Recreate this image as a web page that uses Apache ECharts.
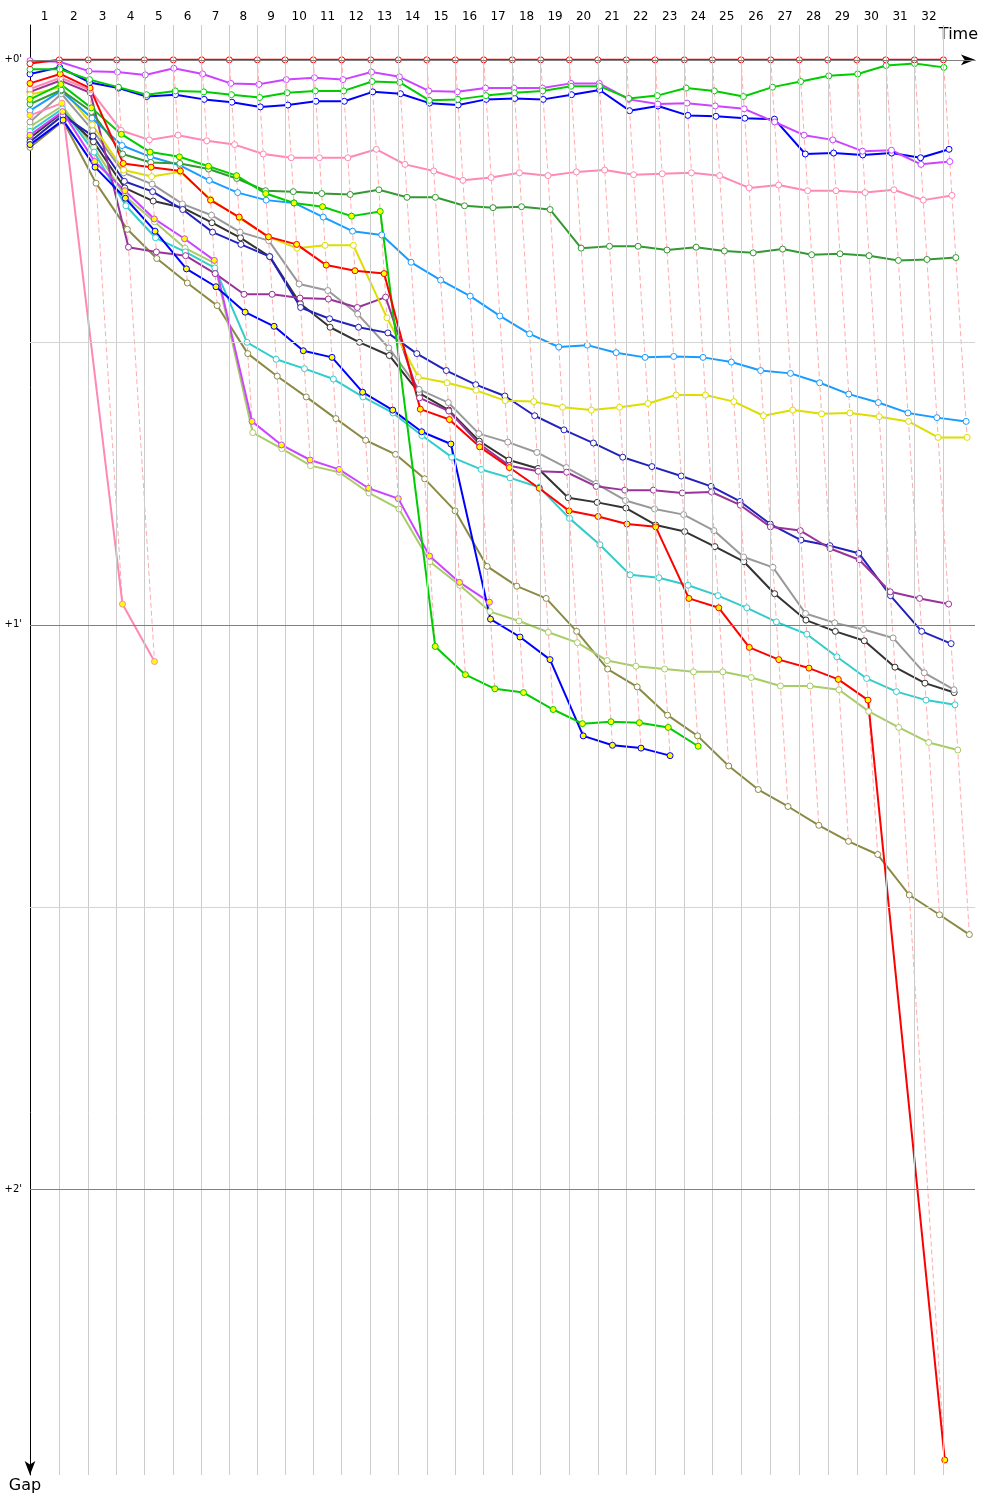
<!DOCTYPE html>
<html><head><meta charset="utf-8">
<script src="https://cdn.jsdelivr.net/npm/echarts@6/dist/echarts.min.js"></script>
<style>html,body{margin:0;padding:0;background:#fff}#c{width:1000px;height:1500px}</style>
</head><body><div id="c"></div>
<script>
// Leader's cumulative time (s) at the end of each lap 1..32
const leaderLapTimes = [49.5, 98.5, 146.5, 193.2, 242.2, 290.2, 336.8, 384.2, 431.0, 478.8, 526.8, 575.8, 622.5, 670.5, 718.8, 766.8, 815.1, 863.1, 911.5, 959.5, 1007.8, 1056.3, 1105.8, 1153.2, 1201.7, 1251.8, 1300.2, 1348.2, 1397.2, 1446.2, 1494.6, 1543.6];
const lapLabels = ['1','2','3','4','5','6','7','8','9','10','11','12','13','14','15','16','17','18','19','20','21','22','23','24','25','26','27','28','29','30','31','32'];
const gapTicks = [0, 60, 120];

// Gap to leader (s) per driver, index 0 = start, index n = end of lap n
const gapRedA    = [0.4,0,0,0,0,0,0,0,0,0,0,0,0,0,0,0,0,0,0,0,0,0,0,0,0,0,0,0,0,0,0,0,0];
const gapGreenB  = [1.0,1.0,2.1,2.9,3.7,3.3,3.4,3.7,4.0,3.5,3.3,3.3,2.3,2.4,4.3,4.2,3.8,3.5,3.3,2.8,2.8,4.1,3.8,3.0,3.3,3.9,2.9,2.3,1.7,1.5,0.6,0.4,0.8];
const gapVioletC = [0.1,0.2,1.2,1.3,1.6,0.9,1.5,2.5,2.6,2.1,1.9,2.1,1.3,1.8,3.3,3.4,3.0,3.0,3.0,2.5,2.5,4.2,4.7,4.6,4.9,5.2,6.6,8.0,8.5,9.7,9.6,11.1,10.8];
const gapBlueD   = [1.5,0.8,2.4,3.0,3.9,3.7,4.2,4.5,5.0,4.8,4.4,4.4,3.4,3.6,4.6,4.8,4.2,4.1,4.2,3.7,3.2,5.4,4.9,5.9,6.0,6.2,6.3,10.0,9.9,10.1,9.9,10.4,9.5];
const gapPinkE   = [3.1,1.9,3.2,7.5,8.5,8.0,8.6,9.0,10.0,10.4,10.4,10.4,9.5,11.1,11.8,12.8,12.5,12.0,12.3,11.9,11.7,12.2,12.1,12.0,12.3,13.6,13.3,13.9,13.9,14.1,13.8,14.9,14.4];
const gapDkGreenF= [4.7,3.2,5.5,10.0,10.9,11.0,11.6,12.6,13.9,14.0,14.2,14.3,13.8,14.6,14.6,15.5,15.7,15.6,15.9,20.0,19.8,19.8,20.2,19.9,20.3,20.5,20.1,20.7,20.6,20.8,21.3,21.2,21.0];
const gapSkyG    = [5.4,3.3,6.2,9.1,10.3,11.2,12.8,14.1,14.9,15.2,16.7,18.2,18.6,21.5,23.4,25.1,27.2,29.1,30.5,30.3,31.1,31.6,31.5,31.6,32.1,33.0,33.3,34.3,35.5,36.4,37.5,38.0,38.4];
const gapYellowH = [3.7,2.9,6.9,11.7,12.4,11.9,14.8,16.8,18.8,20.0,19.7,19.7,27.4,33.7,34.3,35.1,36.2,36.3,36.9,37.2,36.9,36.5,35.6,35.6,36.3,37.8,37.2,37.6,37.5,37.9,38.4,40.1,40.1];
const gapPurpleI = [3.4,2.2,3.5,19.9,20.4,20.8,22.7,24.9,24.9,25.3,25.4,26.3,25.2,35.9,37.3,40.8,43.1,43.7,43.8,45.3,45.7,45.7,46.0,45.9,47.3,49.6,50.0,51.9,53.1,56.5,57.2,57.8];
const gapIndigoJ = [8.7,5.9,8.1,12.9,14.0,15.9,18.3,19.6,20.9,26.3,27.5,28.4,29.0,31.2,33.0,34.5,35.7,37.8,39.3,40.7,42.2,43.2,44.2,45.3,46.9,49.3,51.0,51.6,52.4,56.9,60.7,62.0];
const gapGrayK   = [6.6,3.6,7.5,12.0,13.2,15.3,16.5,18.3,19.2,23.8,24.5,27.0,30.6,35.0,36.4,39.7,40.6,41.7,43.3,45.0,46.8,47.7,48.3,50.0,52.8,53.9,58.8,59.8,60.5,61.4,65.1,66.9];
const gapBlackL  = [8.3,5.6,8.7,13.6,15.0,15.7,17.3,18.9,20.9,25.9,28.4,30.0,31.4,35.4,37.2,40.5,42.5,43.4,46.5,47.0,47.6,49.4,50.1,51.7,53.3,56.7,59.5,60.7,61.7,64.5,66.2,67.2];
const gapCyanM   = [7.6,5.2,9.8,15.5,18.9,20.4,22.1,30.0,31.8,32.8,33.9,35.8,37.5,39.9,42.2,43.5,44.4,45.4,48.7,51.5,54.7,55.0,55.8,56.9,58.2,59.7,61.0,63.4,65.7,67.1,68.0,68.5];
const gapLimeN   = [7.1,4.9,9.3,14.5,17.2,20.0,21.6,39.6,41.3,43.1,43.8,46.0,47.7,53.3,55.8,58.6,59.6,60.8,61.9,63.8,64.4,64.7,65.0,65.0,65.6,66.5,66.5,66.9,69.2,70.9,72.5,73.3];
const gapOliveO  = [9.3,6.5,13.1,18.0,21.1,23.7,26.1,31.2,33.6,35.8,38.1,40.4,41.9,44.5,47.9,53.8,55.9,57.2,60.7,64.7,66.6,69.6,71.8,75.0,77.5,79.3,81.3,83.0,84.4,88.7,90.8,92.9];
const gapRedP    = [2.5,1.5,3.0,11.0,11.4,11.8,14.9,16.7,18.8,19.6,21.8,22.4,22.7,37.1,38.2,41.1,43.3,45.5,47.9,48.5,49.3,49.6,57.2,58.2,62.4,63.7,64.6,65.8,68.0,148.7];
const gapGreenQ  = [4.2,2.6,5.1,7.9,9.8,10.3,11.3,12.3,14.2,15.2,15.6,16.6,16.1,62.3,65.3,66.8,67.2,69.0,70.5,70.3,70.4,70.9,72.9];
const gapBlueR   = [9.0,6.4,11.4,14.7,18.2,22.2,24.1,26.8,28.3,30.9,31.6,35.3,37.2,39.5,40.8,59.4,61.3,63.7,71.8,72.8,73.1,73.9];
const gapVioletS = [8.0,5.5,10.8,13.9,16.9,19.0,21.3,38.4,40.9,42.5,43.5,45.5,46.6,52.7,55.5,57.6];
const gapPinkT   = [5.9,4.6,57.8,63.9];

// drawing order (last = on top) and styles
const drivers = [
  {g: gapOliveO,  c: '#8a8a45', f: '#ffffff'},
  {g: gapLimeN,   c: '#a8cc66', f: '#ffffff'},
  {g: gapCyanM,   c: '#33cccc', f: '#ffffff'},
  {g: gapBlackL,  c: '#333333', f: '#ffffff'},
  {g: gapGrayK,   c: '#999999', f: '#ffffff'},
  {g: gapIndigoJ, c: '#2222bb', f: '#ffffff'},
  {g: gapPurpleI, c: '#993399', f: '#ffffff'},
  {g: gapYellowH, c: '#dddd00', f: '#ffffff'},
  {g: gapSkyG,    c: '#1a9cff', f: '#ffffff'},
  {g: gapDkGreenF,c: '#339933', f: '#ffffff'},
  {g: gapPinkE,   c: '#ff88b4', f: '#ffffff'},
  {g: gapPinkT,   c: '#ff88b4', f: '#ffff00'},
  {g: gapVioletS, c: '#cc44ff', f: '#ffff00'},
  {g: gapBlueR,   c: '#0000ff', f: '#ffff00'},
  {g: gapGreenQ,  c: '#00cc00', f: '#ffff00'},
  {g: gapRedP,    c: '#ff0000', f: '#ffff00'},
  {g: gapBlueD,   c: '#0000ff', f: '#ffffff'},
  {g: gapVioletC, c: '#cc44ff', f: '#ffffff'},
  {g: gapGreenB,  c: '#00cc00', f: '#ffffff'},
  {g: gapRedA,    c: '#ff0000', f: '#ffffff'}
];

const T = leaderLapTimes;
const lapMids = T.map((t, i) => ((i === 0 ? 0 : T[i - 1]) + t) / 2);
function pts(g) { return g.map((v, i) => [i === 0 ? 0 : T[i - 1] + v, v]); }

const series = [];
// vertical lap grid lines
series.push({type: 'line', data: [[0, 0]], symbol: 'none', lineStyle: {opacity: 0}, silent: true, z: 1, animation: false,
  markLine: {silent: true, symbol: 'none', label: {show: false}, animation: false,
    lineStyle: {color: '#cccccc', width: 1, type: 'solid'},
    data: T.map(t => ({xAxis: t}))}});
// horizontal gap lines
series.push({type: 'line', data: [[0, 0]], symbol: 'none', lineStyle: {opacity: 0}, silent: true, z: 1, animation: false,
  markLine: {silent: true, symbol: 'none', label: {show: false}, animation: false,
    data: [
      {yAxis: 30, lineStyle: {color: '#d4d4d4', width: 1, type: 'solid'}},
      {yAxis: 90, lineStyle: {color: '#d4d4d4', width: 1, type: 'solid'}},
      {yAxis: 0, lineStyle: {color: '#808080', width: 1, type: 'solid'}},
      {yAxis: 60, lineStyle: {color: '#808080', width: 1, type: 'solid'}},
      {yAxis: 120, lineStyle: {color: '#808080', width: 1, type: 'solid'}}
    ]}});
// dashed lines joining each lap's crossings
for (let L = 1; L <= T.length; L++) {
  const p = [];
  drivers.forEach(d => { if (d.g.length > L) p.push([T[L - 1] + d.g[L], d.g[L]]); });
  p.sort((a, b) => a[1] - b[1]);
  series.push({type: 'line', data: p, symbol: 'none', silent: true, z: 2, animation: false,
    lineStyle: {color: '#ff9c9c', width: 1, type: [5, 3], opacity: 0.85}});
}
// drivers
drivers.forEach(d => {
  series.push({type: 'line', data: pts(d.g), symbol: 'circle', symbolSize: 6, showSymbol: true, showAllSymbol: true,
    z: 3, animation: false, emphasis: {disabled: true},
    lineStyle: {color: d.c, width: 2},
    itemStyle: {color: d.f, borderColor: d.c, borderWidth: 1}});
});

const chart = echarts.init(document.getElementById('c'), null, {renderer: 'canvas'});
chart.setOption({
  animation: false,
  backgroundColor: '#ffffff',
  textStyle: {fontFamily: 'DejaVu Sans'},
  grid: {left: 30, top: 25, width: 945, height: 1450},
  graphic: [
    {type: 'text', right: 22, top: 27, style: {text: 'Time', fontSize: 16, fill: '#000', fontFamily: 'DejaVu Sans'}}
  ],
  xAxis: {type: 'value', position: 'top', min: 0, max: 1597,
    axisLine: {show: true, lineStyle: {color: '#000', width: 1}, symbol: ['none', 'arrow'], symbolSize: [8, 14]},
    axisTick: {show: false},
    splitLine: {show: false},
    axisLabel: {customValues: lapMids, margin: 2, fontSize: 12, color: '#000',
      formatter: v => { let k = 0, b = Infinity; lapMids.forEach((m, i) => { if (Math.abs(m - v) < b) { b = Math.abs(m - v); k = i; } }); return lapLabels[k]; }}
  },
  yAxis: {type: 'value', inverse: true, min: -3.7, max: 150.3,
    name: 'Gap', nameLocation: 'end', nameGap: 3,
    nameTextStyle: {align: 'center', verticalAlign: 'top', fontSize: 16, color: '#000', padding: [0, 10, 0, 0]},
    axisLine: {show: true, lineStyle: {color: '#000', width: 1}, symbol: ['arrow', 'none'], symbolSize: [8, 14]},
    axisTick: {show: false},
    splitLine: {show: false},
    axisLabel: {customValues: gapTicks, margin: 8, fontSize: 10, color: '#000',
      formatter: v => '+' + Math.round(v / 60) + "'"}
  },
  series: series
});
</script></body></html>
